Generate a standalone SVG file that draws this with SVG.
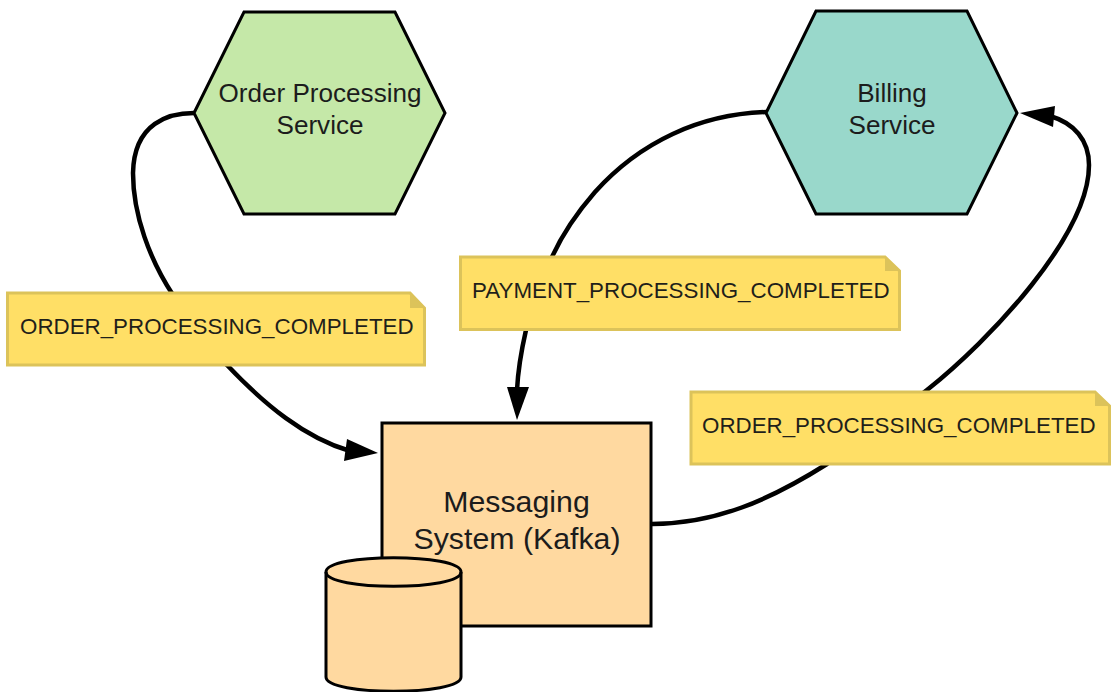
<svg xmlns="http://www.w3.org/2000/svg" width="1113" height="692" viewBox="0 0 1113 692">
<style>
.n{stroke:#000;stroke-width:3;stroke-linejoin:miter}
.c{fill:none;stroke:#000;stroke-width:4.5;stroke-linecap:butt}
.head{fill:#000;stroke:none}
.t{font-family:"Liberation Sans",Arial,sans-serif;font-size:26.1px;fill:#1c1c1c;text-anchor:middle}
.big{font-size:30.3px}
.note{fill:#ffdf66;stroke:#dcc35a;stroke-width:3}
.fold{fill:#dcc35a;stroke:none}
.nt{font-family:"Liberation Sans",Arial,sans-serif;font-size:22.35px;fill:#1f1f1a}
.db{fill:#ffd9a0}
</style>
<rect width="1113" height="692" fill="#fff"/>
<g id="connectors">
<path class="c" d="M194 113C170 113 134 122 133 173C133 215 150 260 173 295C190 325 208 347 227 365C265 405 305 438 350 451"/>
<polygon class="head" points="378,453 344,461 347,439"/>
<path class="c" d="M767 112C700 114 640 142 595 192C575 215 562 235 552 257C540 282 531 306 526 330C521 352 518 370 517 390"/>
<polygon class="head" points="517,420 507,387 529,387"/>
<path class="c" d="M652 524C715 524 770 500 827 464C860 440 895 415 927 390C990 340 1089 235 1089 165C1089 140 1074 123 1050 116"/>
<polygon class="head" points="1020,113 1055,106 1053,127"/>
</g>
<g id="order-service">
<polygon class="n" points="194,113 244,12 395,12 445,113 395,214 244,214" fill="#c5e8a8"/>
<text class="t" x="320" y="102">Order Processing</text>
<text class="t" x="320" y="134">Service</text>
</g>
<g id="billing-service">
<polygon class="n" points="766,113 816,11 967,11 1017,113 967,214 816,214" fill="#99d8cb"/>
<text class="t" x="892" y="102">Billing</text>
<text class="t" x="892" y="134">Service</text>
</g>
<g id="messaging-system">
<rect class="n db" x="382" y="423" width="269" height="203"/>
<text class="t big" x="516.500" y="512">Messaging</text>
<text class="t big" x="517" y="549">System (Kafka)</text>
</g>
<g id="database">
<path class="n db" d="M326 572C326 553 461 553 461 572V677C461 696 326 696 326 677Z"/>
<path class="n" fill="none" d="M326 572C326 591 461 591 461 572"/>
</g>
<g id="note-order-1">
<polygon class="note" points="7.500,293 410,293 424.500,308 424.500,365 7.500,365"/>
<polygon class="fold" points="410,293 424.500,308 410,308"/>
<text class="nt" x="20" y="334">ORDER_PROCESSING_COMPLETED</text>
</g>
<g id="note-payment">
<polygon class="note" points="460.500,257 885,257 899.500,271 899.500,329.500 460.500,329.500"/>
<polygon class="fold" points="885,257 899.500,271 885,271"/>
<text class="nt" x="472" y="298">PAYMENT_PROCESSING_COMPLETED</text>
</g>
<g id="note-order-2">
<polygon class="note" points="691,392 1095,392 1109.500,406 1109.500,464 691,464"/>
<polygon class="fold" points="1095,392 1109.500,406 1095,406"/>
<text class="nt" x="702" y="433">ORDER_PROCESSING_COMPLETED</text>
</g>
</svg>
